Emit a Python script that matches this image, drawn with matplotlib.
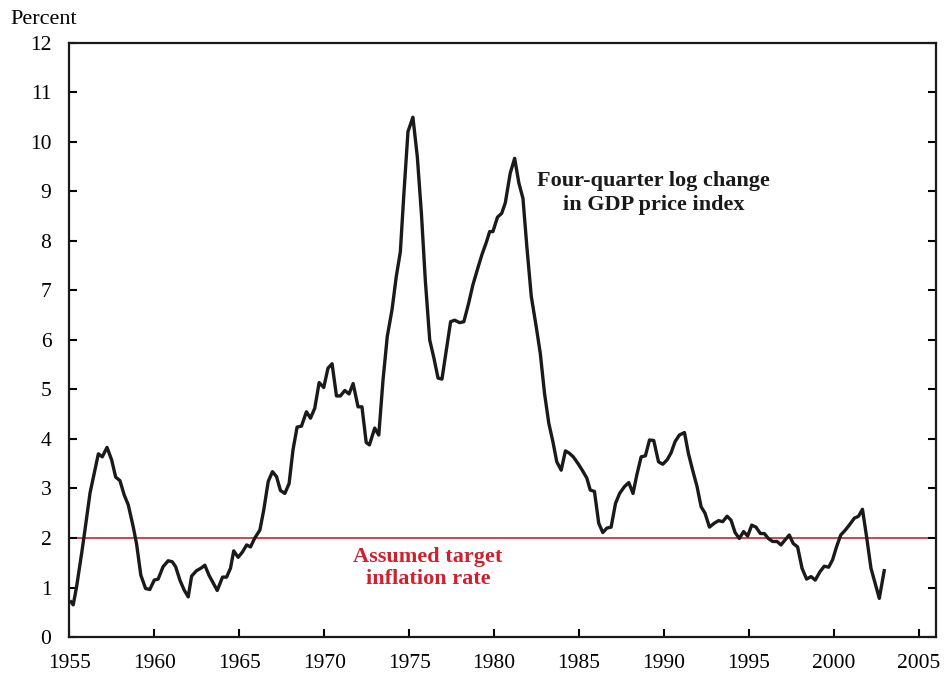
import matplotlib.pyplot as plt

plt.rcParams['font.family'] = ['Liberation Serif', 'DejaVu Serif']

# four-quarter log change in GDP price index
year = [1955.09, 1955.22, 1955.42, 1955.72, 1955.91, 1956.21, 1956.46, 1956.70, 1956.93,
        1957.21, 1957.48, 1957.72, 1957.97, 1958.22, 1958.46, 1958.75, 1958.95,
        1959.20, 1959.48, 1959.73, 1959.99, 1960.22, 1960.51, 1960.81, 1961.05,
        1961.25, 1961.50, 1961.75, 1961.99, 1962.19, 1962.48, 1962.74, 1962.97,
        1963.21, 1963.70, 1964.01, 1964.25, 1964.48, 1964.67, 1964.93, 1965.19,
        1965.43, 1965.66, 1965.91, 1966.21, 1966.44, 1966.70, 1966.95, 1967.19,
        1967.42, 1967.68, 1967.93, 1968.16, 1968.40, 1968.66, 1968.95, 1969.19,
        1969.44, 1969.70, 1969.97, 1970.22, 1970.46, 1970.72, 1970.95, 1971.21,
        1971.46, 1971.70, 1971.99, 1972.22, 1972.47, 1972.66, 1972.97, 1973.21,
        1973.46, 1973.71, 1973.99, 1974.24, 1974.48, 1974.69, 1974.93, 1975.22,
        1975.48, 1975.72, 1975.95, 1976.21, 1976.46, 1976.70, 1976.93, 1977.19,
        1977.44, 1977.68, 1977.97, 1978.22, 1978.50, 1978.75, 1979.04, 1979.28,
        1979.54, 1979.74, 1979.93, 1980.20, 1980.45, 1980.66, 1980.95, 1981.21,
        1981.46, 1981.70, 1981.93, 1982.19, 1982.48, 1982.72, 1982.97, 1983.22,
        1983.46, 1983.69, 1983.95, 1984.20, 1984.44, 1984.66, 1984.93, 1985.19,
        1985.46, 1985.66, 1985.91, 1986.16, 1986.40, 1986.64, 1986.89, 1987.15,
        1987.39, 1987.68, 1987.93, 1988.18, 1988.40, 1988.66, 1988.91, 1989.15,
        1989.40, 1989.68, 1989.93, 1990.19, 1990.42, 1990.66, 1990.91, 1991.21,
        1991.44, 1991.69, 1991.95, 1992.19, 1992.42, 1992.68, 1992.97, 1993.21,
        1993.46, 1993.72, 1993.95, 1994.19, 1994.44, 1994.69, 1994.93, 1995.17,
        1995.42, 1995.68, 1995.91, 1996.15, 1996.40, 1996.66, 1996.89, 1997.13,
        1997.38, 1997.61, 1997.87, 1998.13, 1998.40, 1998.66, 1998.91, 1999.19,
        1999.44, 1999.70, 1999.93, 2000.16, 2000.41, 2000.68, 2000.91, 2001.21,
        2001.46, 2001.69, 2001.93, 2002.19, 2002.44, 2002.68, 2002.97]
pct = [0.71, 0.65, 1.02, 1.70, 2.16, 2.91, 3.31, 3.70, 3.64,
       3.83, 3.58, 3.23, 3.16, 2.87, 2.67, 2.23, 1.88,
       1.25, 0.98, 0.96, 1.15, 1.17, 1.42, 1.54, 1.52,
       1.42, 1.15, 0.95, 0.81, 1.23, 1.34, 1.39, 1.45,
       1.25, 0.94, 1.21, 1.21, 1.39, 1.74, 1.61, 1.72,
       1.86, 1.82, 2.00, 2.16, 2.57, 3.14, 3.34, 3.24,
       2.96, 2.90, 3.10, 3.78, 4.24, 4.26, 4.55, 4.42,
       4.62, 5.14, 5.04, 5.43, 5.52, 4.87, 4.87, 4.98,
       4.91, 5.12, 4.65, 4.65, 3.93, 3.88, 4.22, 4.08,
       5.19, 6.07, 6.61, 7.28, 7.78, 8.96, 10.21, 10.50,
       9.70, 8.56, 7.21, 6.00, 5.63, 5.23, 5.21, 5.80,
       6.37, 6.40, 6.35, 6.37, 6.74, 7.11, 7.45, 7.72,
       7.97, 8.19, 8.19, 8.48, 8.56, 8.77, 9.37, 9.67,
       9.17, 8.86, 7.88, 6.88, 6.27, 5.73, 4.92, 4.32,
       3.95, 3.54, 3.37, 3.76, 3.71, 3.64, 3.51, 3.37,
       3.21, 2.97, 2.94, 2.30, 2.11, 2.20, 2.22, 2.70,
       2.90, 3.04, 3.12, 2.90, 3.27, 3.64, 3.66, 3.98,
       3.97, 3.54, 3.49, 3.58, 3.72, 3.95, 4.08, 4.13,
       3.71, 3.37, 3.04, 2.63, 2.50, 2.22, 2.30, 2.35,
       2.33, 2.44, 2.36, 2.11, 1.99, 2.13, 2.04, 2.26,
       2.22, 2.09, 2.09, 1.99, 1.93, 1.93, 1.86, 1.96,
       2.06, 1.89, 1.82, 1.39, 1.17, 1.22, 1.15, 1.32,
       1.43, 1.41, 1.56, 1.82, 2.06, 2.16, 2.26, 2.40,
       2.44, 2.58, 2.03, 1.39, 1.08, 0.78, 1.34]
target = 2.0
xticks = list(range(1955, 2006, 5))
yticks = list(range(0, 13))

red = '#d0202e'

fig = plt.figure(figsize=(9.48, 6.81), dpi=100)
ax = fig.add_axes([0.0733, 0.0646, 0.9137, 0.8723])

ax.axhline(target, color=red, lw=1.2, zorder=1)
ax.plot(year, pct, color='#1a1a1a', lw=2.4, zorder=2)

ax.set_xlim(1955, 2006)
ax.set_ylim(0, 12)
ax.set_xticks(xticks)
ax.set_yticks(yticks)
ax.tick_params(axis='x', direction='in', length=6, width=1.5, pad=12, labelsize=15.5)
ax.tick_params(axis='y', direction='in', length=6, width=1.5, pad=13, labelsize=15.5,
               right=True)
for s in ax.spines.values():
    s.set_linewidth(1.6)
    s.set_color('#1a1a1a')

ax.text(1989.4, 8.97, 'Four-quarter log change\nin GDP price index', ha='center',
        va='center', fontsize=16, fontweight='bold', color='#1a1a1a', linespacing=1.28)
ax.text(1976.1, 1.39, 'Assumed target\ninflation rate', ha='center', va='center',
        fontsize=16, fontweight='bold', color=red, linespacing=1.1)

fig.text(0.011, 0.972, 'Percent', ha='left', va='center', fontsize=16)

fig.savefig('out.png', dpi=100)
